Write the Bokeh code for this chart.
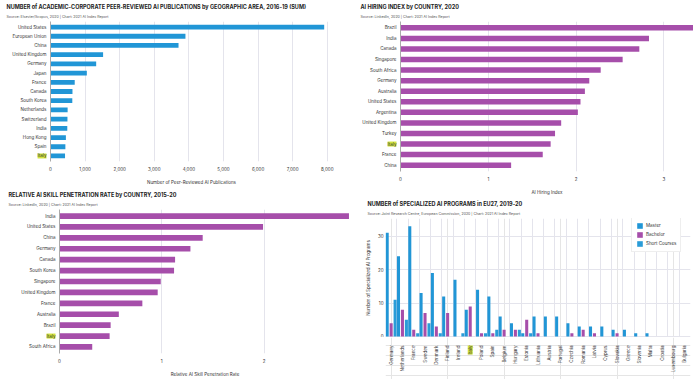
import math
from bokeh.plotting import figure
from bokeh.layouts import row, column
from bokeh.models import (FixedTicker, NumeralTickFormatter, Range1d, Title, Label, Grid,
                          ColumnDataSource, Legend, LegendItem)
from bokeh.core.properties import value
from bokeh.transform import dodge
from bokeh.embed import file_html
from bokeh.resources import INLINE

FONT = "Inter"
BLUE = "#2196d6"
PURPLE = "#a64eaa"
HILITE = "#d2e33c"
GRID = "#e4e4ec"
TXT = "#333333"

# ---------------- data ----------------
pub_countries = ["United States", "European Union", "China", "United Kingdom", "Germany", "Japan",
                 "France", "Canada", "South Korea", "Netherlands", "Switzerland", "India",
                 "Hong Kong", "Spain", "Italy"]
pub_values = [7910, 3900, 3700, 1520, 1320, 1050, 700, 635, 630, 495, 490, 485, 445, 430, 420]
pub_ticks = [0, 1000, 2000, 3000, 4000, 5000, 6000, 7000, 8000]

hire_countries = ["Brazil", "India", "Canada", "Singapore", "South Africa", "Germany", "Australia",
                  "United States", "Argentina", "United Kingdom", "Turkey", "Italy", "France", "China"]
hire_values = [3.40, 2.83, 2.72, 2.53, 2.28, 2.15, 2.10, 2.05, 2.02, 1.83, 1.76, 1.71, 1.62, 1.26]
hire_ticks = [0, 1, 2, 3]

skill_countries = ["India", "United States", "China", "Germany", "Canada", "South Korea", "Singapore",
                   "United Kingdom", "France", "Australia", "Brazil", "Italy", "South Africa"]
skill_values = [2.83, 1.99, 1.40, 1.28, 1.13, 1.12, 0.99, 0.96, 0.81, 0.58, 0.50, 0.49, 0.32]
skill_ticks = [0, 1, 2]

eu_countries = ["Germany", "Netherlands", "France", "Sweden", "Denmark", "Finland", "Ireland", "Italy",
                "Poland", "Spain", "Belgium", "Hungary", "Estonia", "Lithuania", "Austria", "Portugal",
                "Czechia", "Romania", "Latvia", "Cyprus", "Slovakia", "Greece", "Slovenia", "Malta",
                "Croatia", "Luxembourg", "Bulgaria"]
eu_master = [31, 24, 33, 13, 19, 12, 17, 8, 14, 12, 6, 4, 1, 6, 6, 6, 4, 3, 3, 3, 2, 2, 1, 1, 0, 0, 0]
eu_bachelor = [4, 8, 2, 7, 3, 7, 0, 9, 1, 1, 2, 2, 5, 1, 0, 0, 1, 2, 1, 0, 1, 0, 0, 0, 0, 0, 0]
eu_short = [11, 5, 1, 4, 1, 0, 1, 0, 1, 2, 0, 2, 1, 0, 0, 0, 0, 0, 0, 0, 0, 0, 0, 0, 0, 0, 0]
eu_ticks = [0, 10, 20, 30]


def style_axes(p):
    p.outline_line_color = None
    for ax in p.axis:
        ax.major_tick_line_color = None
        ax.minor_tick_line_color = None
        ax.major_tick_out = 0
        ax.major_tick_in = 0
        ax.major_label_text_font = FONT
        ax.major_label_text_font_size = "4.5px"
        ax.major_label_text_color = TXT
        ax.axis_label_text_font = FONT
        ax.axis_label_text_font_size = "4.5px"
        ax.axis_label_text_font_style = "normal"
        ax.axis_label_text_color = TXT


def add_titles(p, subtitle, offset, main_standoff=2, sub_standoff=5):
    # figure's own title (farthest from frame) is the main title
    p.title.text_font = FONT
    p.title.text_font_size = "5.5px"
    p.title.text_font_style = "bold"
    p.title.text_color = "#222222"
    p.title.offset = offset
    p.title.standoff = main_standoff
    t = Title(text=subtitle, text_font=FONT, text_font_size="3.6px", text_font_style="normal",
              text_color="#555555", offset=offset, standoff=sub_standoff)
    p.add_layout(t, "above")


def no_align(p):
    try:
        p.frame_align = False
    except Exception:
        pass


def hbar_chart(cats, vals, color, xr, xticks, xlabel, title, subtitle, width, height,
               left, right, top, bottom, toffset, fmt=None):
    n = len(cats)
    src = ColumnDataSource(dict(y=list(range(n)), v=vals))
    p = figure(width=width, height=height, title=title, output_backend="svg",
               toolbar_location=None, x_range=Range1d(*xr), y_range=Range1d(n - 0.4, -0.6),
               min_border_left=left, min_border_right=right, min_border_top=top,
               min_border_bottom=bottom)
    no_align(p)
    p.hbar(y="y", left=0, right="v", height=0.52, color=color, line_color=None, source=src)
    style_axes(p)
    p.xaxis.ticker = FixedTicker(ticks=xticks)
    if fmt:
        p.xaxis.formatter = NumeralTickFormatter(format=fmt)
    p.yaxis.ticker = FixedTicker(ticks=list(range(n)))
    p.yaxis.major_label_overrides = {i: ("" if c == "Italy" else c) for i, c in enumerate(cats)}
    p.yaxis.major_label_standoff = 4
    p.xaxis.major_label_standoff = 5
    p.xaxis.axis_label = xlabel
    p.xaxis.axis_label_standoff = 6
    p.xaxis.axis_line_color = None
    p.yaxis.axis_line_color = "#aaaaaa"
    p.ygrid.visible = False
    p.xgrid.grid_line_color = GRID
    i = cats.index("Italy")
    p.add_layout(Label(x=0, y=i, x_offset=-4, text="Italy", text_align="right",
                       text_baseline="middle", background_fill_color=HILITE,
                       text_font=FONT, text_font_size="4.5px", text_color=TXT), "left")
    add_titles(p, subtitle, toffset)
    return p


tl = hbar_chart(pub_countries, pub_values, BLUE, (0, 8150), pub_ticks,
                "Number of Peer-Reviewed AI Publications",
                "NUMBER of ACADEMIC-CORPORATE PEER-REVIEWED AI PUBLICATIONS by GEOGRAPHIC AREA, 2016-19 (SUM)",
                "Source: Elsevier/Scopus, 2020 | Chart: 2021 AI Index Report",
                350, 188, 46, 18, 20, 27, -44, fmt="0,0")

tr = hbar_chart(hire_countries, hire_values, PURPLE, (0, 3.337), hire_ticks, "AI Hiring Index",
                "AI HIRING INDEX by COUNTRY, 2020",
                "Source: LinkedIn, 2020 | Chart: 2021 AI Index Report",
                343, 197, 50, 0, 21, 24, -40)

bl = hbar_chart(skill_countries, skill_values, PURPLE, (0, 2.845), skill_ticks,
                "Relative AI Skill Penetration Rate",
                "RELATIVE AI SKILL PENETRATION RATE by COUNTRY, 2015-20",
                "Source: LinkedIn, 2020 | Chart: 2021 AI Index Report",
                350, 191, 59, 0, 20, 23, -51)

# ---------------- grouped bar chart ----------------
n = len(eu_countries)
src = ColumnDataSource(dict(x=list(range(n)), m=eu_master, b=eu_bachelor, s=eu_short,
                            name=[("" if c == "Italy" else c) for c in eu_countries]))
br = figure(width=343, height=140, title="NUMBER of SPECIALIZED AI PROGRAMS in EU27, 2019-20",
            output_backend="svg", toolbar_location=None, x_axis_location=None,
            x_range=Range1d(-0.5, n - 0.5), y_range=Range1d(-0.3, 35.3),
            min_border_left=35, min_border_right=3, min_border_top=21, min_border_bottom=0)
no_align(br)
r1 = br.vbar(x=dodge("x", -0.35), top="m", width=0.27, color=BLUE, line_color=None, source=src)
r2 = br.vbar(x=dodge("x", 0.0), top="b", width=0.27, color=PURPLE, line_color=None, source=src)
r3 = br.vbar(x=dodge("x", 0.35), top="s", width=0.27, color="#2a9cd8", line_color=None, source=src)
style_axes(br)
br.add_layout(Grid(dimension=0, ticker=FixedTicker(ticks=[i - 0.5 for i in range(n + 1)]),
                   grid_line_color=GRID))
br.ygrid.grid_line_color = GRID
br.yaxis.ticker = FixedTicker(ticks=eu_ticks)
br.yaxis.axis_line_color = None
br.yaxis.major_label_standoff = 2
br.yaxis.axis_label = "Number of Specialized AI Programs"
br.yaxis.axis_label_standoff = 4
legend = Legend(items=[LegendItem(label="Master", renderers=[r1]),
                       LegendItem(label="Bachelor", renderers=[r2]),
                       LegendItem(label="Short Courses", renderers=[r3])],
                location=(246, 85), label_text_font=FONT, label_text_font_size="4.5px",
                label_text_color=TXT, glyph_width=7, glyph_height=7, label_height=7,
                label_standoff=3, spacing=2, padding=4, margin=0,
                border_line_color="#dddddd", background_fill_alpha=1)
br.add_layout(legend)
add_titles(br, "Source: Joint Research Centre, European Commission, 2020 | Chart: 2021 AI Index Report", -18)

# country labels strip under the grouped bar chart (shares its x scale)
br_lab = figure(width=343, height=42, output_backend="svg", toolbar_location=None,
                x_axis_location=None, y_axis_location=None,
                x_range=br.x_range, y_range=Range1d(-34, 8),
                min_border_left=35, min_border_right=3, min_border_top=0, min_border_bottom=0)
no_align(br_lab)
br_lab.outline_line_color = None
br_lab.text(x="x", y=0, text="name", source=src, angle=math.pi / 2, text_align="right",
            text_baseline="middle", text_font=value(FONT), text_font_size="4.5px", text_color=TXT)
ii = eu_countries.index("Italy")
br_lab.add_layout(Label(x=ii, y=0, angle=math.pi / 2, text="Italy", text_align="right",
                        text_baseline="middle", background_fill_color=HILITE,
                        text_font=FONT, text_font_size="4.5px", text_color=TXT))

layout = row(column(tl, bl), column(tr, br, br_lab))
open("out.html", "w").write(file_html(layout, INLINE))
